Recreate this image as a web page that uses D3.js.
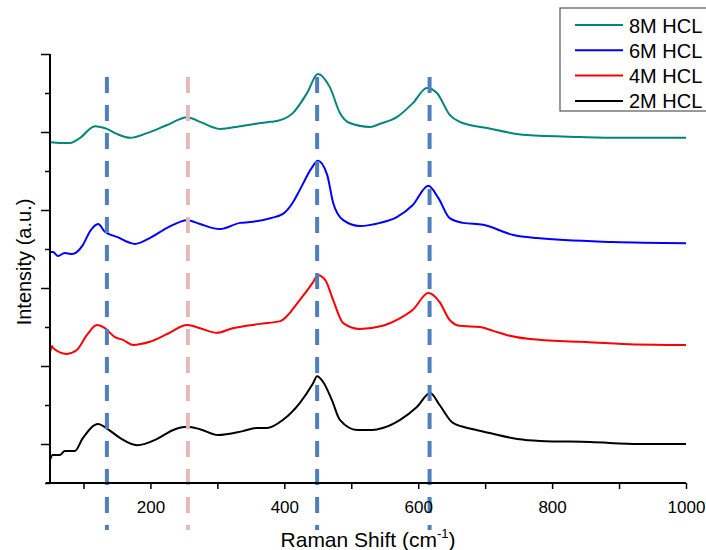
<html>
  <head>
    <title> Raman </title>
    <style>
      body { margin: 0; background: #fff; }
      text { font-family: "Liberation Sans", Arial, sans-serif; }
    </style>
  </head>
  <body>
  <script src="https://d3js.org/d3.v7.min.js"></script>
    <script>
    var w = 706;
    var h = 550;

    // [Raman shift (cm-1), intensity (a.u., stacked)]
    var hcl8 = [[51.5,874],[65,872],[80,872],[95,885],[117,915],[135,908],[150,895],[170,885],[195,897],[225,918],[255,938],[274,926],[304,908],[334,915],[379,926],[389,928],[413,949],[434,1000],[450,1049],[468,1015],[483,949],[498,923],[528,913],[543,921],[568,938],[592,974],[613,1013],[628,1000],[647,944],[662,926],[703,910],[762,892],[842,887],[901,885],[1000,885]];
    var hcl6 = [[51.5,592],[54.5,592],[62,582],[72,590],[83,587],[99,610],[110,646],[122,664],[132,644],[150,631],[177,613],[199,628],[225,654],[255,674],[274,664],[304,651],[334,667],[349,669],[379,679],[398,690],[413,720],[423,751],[441,808],[450,826],[464,790],[473,718],[488,674],[513,659],[543,667],[568,682],[592,713],[615,762],[630,731],[647,679],[667,667],[697,662],[742,636],[777,628],[891,618],[1000,615]];
    var hcl4 = [[50,336],[53,351],[54.5,346],[75,331],[90,341],[105,379],[120,405],[132,397],[147,374],[159,367],[174,354],[199,362],[225,382],[255,405],[274,397],[299,385],[323,397],[364,408],[394,415],[423,469],[443,515],[450,533],[461,521],[473,469],[488,410],[513,395],[547,403],[568,418],[592,444],[615,487],[632,464],[647,418],[662,403],[692,400],[712,390],[733,379],[767,369],[842,362],[916,356],[1000,354]];
    var hcl2 = [[50,59],[54,72],[65,72],[72,82],[87,82],[99,115],[122,151],[134,141],[155,115],[180,97],[210,113],[234,136],[255,144],[274,138],[301,123],[338,133],[359,141],[374,141],[398,162],[423,205],[443,256],[449,274],[458,259],[471,213],[483,162],[509,136],[532,136],[547,141],[573,162],[598,195],[618,231],[632,200],[652,154],[682,138],[707,128],[748,113],[782,108],[857,105],[931,100],[1000,100]];

    var seriesNames = ['8M HCL', '6M HCL', '4M HCL', '2M HCL'];
    var seriesData = [hcl8, hcl6, hcl4, hcl2];
    var seriesColors = ['#00857f', '#0000ff', '#ff0000', '#000000'];

    var markers = [135, 256, 449, 617];
    var markerColors = ['#4f7fbd', '#e8b8b8', '#4f7fbd', '#4f7fbd'];

    var xTicks = [100, 200, 300, 400, 500, 600, 700, 800, 900, 1000];
    var xLabels = [200, 400, 600, 800, 1000];
    var yTicks = [0, 100, 200, 300, 400, 500, 600, 700, 800, 900, 1000, 1100];

    var x = d3.scaleLinear().domain([50, 1000]).range([50, 686]);
    var y = d3.scaleLinear().domain([0, 1100]).range([483, 54]);

    var svg = d3.select('body')
                .append('svg')
                .attr('width', w)
                .attr('height', h);

    // spectra
    var line = d3.line()
                 .x(d => x(d[0]))
                 .y(d => y(d[1]))
                 .curve(d3.curveMonotoneX);

    svg.selectAll('path.spec')
       .data(seriesData)
       .enter()
       .append('path')
       .attr('class', 'spec')
       .attr('d', line)
       .attr('fill', 'none')
       .attr('stroke', (d, i) => seriesColors[i])
       .attr('stroke-width', 2)
       .attr('stroke-linejoin', 'round');

    // dashed marker lines
    svg.selectAll('line.mark')
       .data(markers)
       .enter()
       .append('line')
       .attr('class', 'mark')
       .attr('x1', d => x(d))
       .attr('x2', d => x(d))
       .attr('y1', 77)
       .attr('y2', 530)
       .attr('stroke', (d, i) => markerColors[i])
       .attr('stroke-width', 4)
       .attr('stroke-dasharray', '16,12');

    // x axis
    var xAxis = svg.append('g')
       .attr('transform', 'translate(0,483)')
       .call(d3.axisBottom(x).tickValues(xTicks).tickSize(6)
               .tickFormat(d => xLabels.indexOf(d) >= 0 ? d : ''));
    xAxis.select('.domain').attr('stroke-width', 2).attr('d', 'M46,0H686');
    xAxis.selectAll('.tick line').attr('stroke-width', 1.5);
    xAxis.selectAll('.tick text')
         .attr('font-size', 17)
         .attr('font-family', '"Liberation Sans", Arial, sans-serif')
         .attr('fill', '#000')
         .attr('dy', '1.25em');

    // y axis, no labels
    var yAxis = svg.append('g')
       .attr('transform', 'translate(50,0)')
       .call(d3.axisLeft(y).tickValues(yTicks).tickSize(0).tickFormat(''));
    yAxis.select('.domain').attr('stroke-width', 2).attr('d', 'M0,54V483');
    yAxis.selectAll('.tick line')
         .attr('x2', d => (d / 100) % 2 === 1 ? -9 : -5)
         .attr('stroke', '#000')
         .attr('stroke-width', 1.5);

    // axis titles
    var xt = svg.append('text')
       .attr('x', 368)
       .attr('y', 547)
       .attr('text-anchor', 'middle')
       .attr('font-size', 21);
    xt.append('tspan').text('Raman Shift (cm');
    xt.append('tspan').attr('font-size', 13).attr('dy', -9).text('-1');
    xt.append('tspan').attr('dy', 9).text(')');

    svg.append('text')
       .attr('transform', 'translate(31,262) rotate(-90)')
       .attr('text-anchor', 'middle')
       .attr('font-size', 20)
       .text('Intensity (a.u.)');

    // legend
    var legend = svg.append('g');
    legend.append('rect')
          .attr('x', 560)
          .attr('y', 8)
          .attr('width', 200)
          .attr('height', 103)
          .attr('fill', '#fff')
          .attr('stroke', '#555')
          .attr('stroke-width', 1.2);

    var items = legend.selectAll('g.item')
          .data(seriesNames)
          .enter()
          .append('g')
          .attr('class', 'item')
          .attr('transform', (d, i) => 'translate(0,' + (25 + i * 25.3) + ')');
    items.append('line')
         .attr('x1', 575).attr('x2', 623)
         .attr('stroke', (d, i) => seriesColors[i])
         .attr('stroke-width', 2);
    items.append('text')
         .attr('x', 629)
         .attr('y', 7.5)
         .attr('font-size', 20)
         .text(d => d);
      </script>
    </body>
</html>
